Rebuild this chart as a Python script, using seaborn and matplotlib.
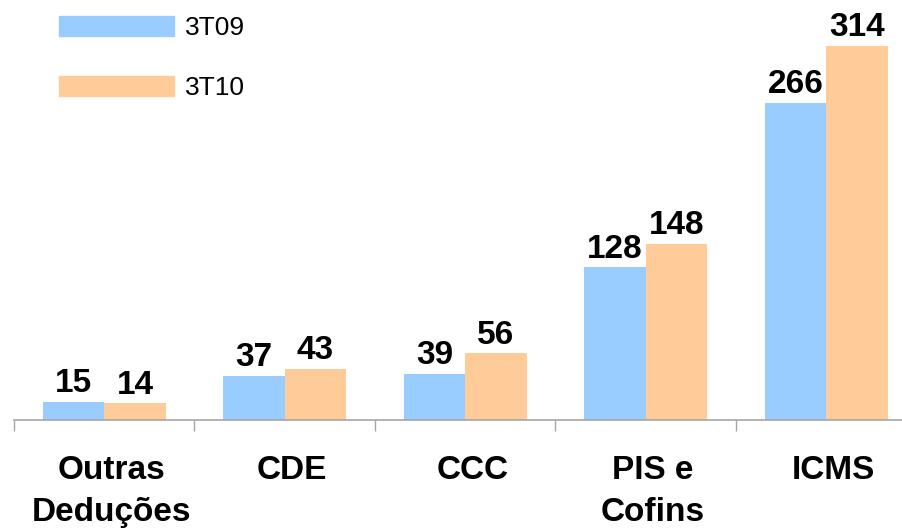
import matplotlib
matplotlib.use("Agg")
import matplotlib.pyplot as plt
import matplotlib.transforms as mtransforms
import numpy as np
import pandas as pd
import seaborn as sns

categories = ["Outras\nDeduções", "CDE", "CCC", "PIS e\nCofins", "ICMS"]
periods = ["3T09", "3T10"]
vals_3t09 = [15, 37, 39, 128, 266]
vals_3t10 = [14, 43, 56, 148, 314]

PALETTE = {"3T09": "#99CCFF", "3T10": "#FFCC99"}
AXIS_GREY = "#A6A6A6"

df = pd.DataFrame({
    "categoria": categories * 2,
    "periodo": [periods[0]] * len(categories) + [periods[1]] * len(categories),
    "valor": vals_3t09 + vals_3t10,
})

sns.set_theme(style="white")
plt.rcParams["font.family"] = ["Liberation Sans", "DejaVu Sans"]
plt.rcParams["text.color"] = "black"
plt.rcParams["xtick.color"] = "black"

fig = plt.figure(figsize=(9.03, 5.31), dpi=100)
ax = fig.add_axes([14 / 903, 111 / 531, 902.5 / 903, 417 / 531])

sns.barplot(data=df, x="categoria", y="valor", hue="periodo", order=categories,
            hue_order=periods, palette=PALETTE, width=0.68, gap=0,
            saturation=1, linewidth=0, ax=ax, legend=False)

for cont in ax.containers:
    ax.bar_label(cont, fmt="%d", padding=2, fontsize=24, fontweight="bold",
                 color="black")

ax.set_xlim(-0.5, 4.5)
ax.set_ylim(0, 350)
ax.set_xlabel("")
ax.set_ylabel("")
ax.set_yticks([])
for s in ["top", "right", "left"]:
    ax.spines[s].set_visible(False)
ax.spines["bottom"].set_color(AXIS_GREY)
ax.spines["bottom"].set_linewidth(1.2)

# category labels (no tick marks), separators as minor ticks
ax.set_xticks(np.arange(len(categories)))
ax.set_xticklabels(categories, fontsize=24, fontweight="bold", linespacing=1.45,
                   va="top", color="black")
ax.set_xticks(np.arange(len(categories)) - 0.5, minor=True)
ax.tick_params(axis="x", which="major", bottom=True, length=0, pad=25)
ax.tick_params(axis="x", which="minor", bottom=True, length=8, width=1,
               color=AXIS_GREY, direction="out")
shift = mtransforms.ScaledTranslation(7 / 100, 0, fig.dpi_scale_trans)
for lbl in ax.get_xticklabels():
    lbl.set_transform(lbl.get_transform() + shift)

handles = [plt.Rectangle((0, 0), 1, 1, color=PALETTE[p]) for p in periods]
fig.legend(handles, periods, loc="upper left", bbox_to_anchor=(35 / 903, 1 + 8 / 531),
           frameon=False, fontsize=19, handlelength=4.35, handleheight=0.8,
           labelspacing=1.35, handletextpad=0.45)

fig.savefig("out.png", dpi=100)
